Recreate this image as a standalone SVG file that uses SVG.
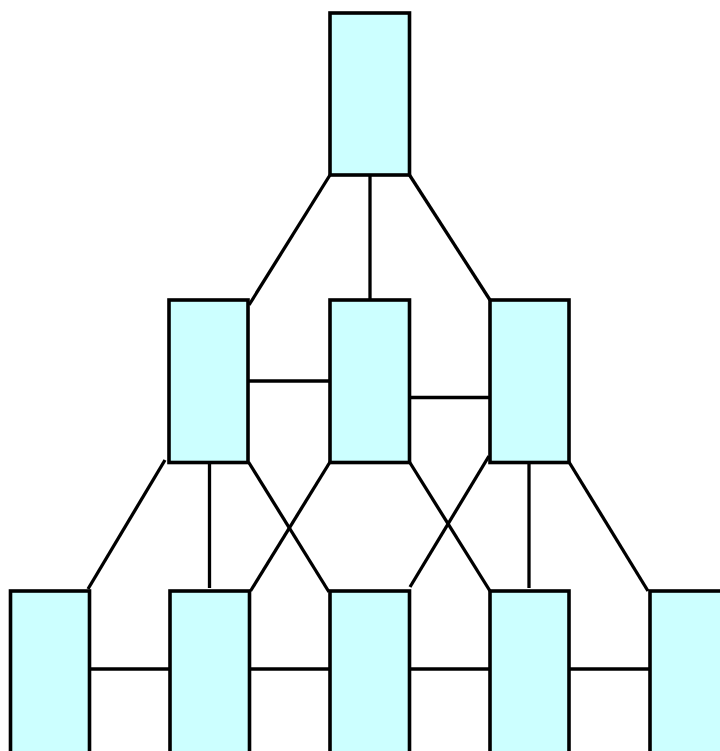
<svg xmlns="http://www.w3.org/2000/svg" width="720" height="751" viewBox="0 0 720 751">
<style>
.n{fill:#CCFFFF;stroke:#000;stroke-width:3.6}
.c{stroke:#000;stroke-width:3.3;fill:none}
</style>
<rect width="720" height="751" fill="#fff"/>
<g id="connectors" class="c">
<line x1="330" y1="175" x2="249" y2="305"/>
<line x1="370" y1="175" x2="370" y2="300"/>
<line x1="409.5" y1="175" x2="490" y2="300"/>
<line x1="248" y1="381" x2="330" y2="381"/>
<line x1="409.5" y1="397.5" x2="490" y2="397.5"/>
<line x1="165" y1="460" x2="88" y2="589"/>
<line x1="209.5" y1="462" x2="209.5" y2="588"/>
<line x1="248.5" y1="462" x2="329" y2="592"/>
<line x1="330" y1="462" x2="250.5" y2="591"/>
<line x1="409.5" y1="462" x2="490" y2="591"/>
<line x1="489" y1="456" x2="410" y2="587"/>
<line x1="529" y1="462" x2="529" y2="588"/>
<line x1="569" y1="462" x2="648" y2="591"/>
<line x1="89.5" y1="669" x2="170" y2="669"/>
<line x1="249.5" y1="669" x2="330" y2="669"/>
<line x1="409.5" y1="669" x2="490" y2="669"/>
<line x1="569" y1="669" x2="650" y2="669"/>
</g>
<g id="n0"><rect class="n" x="330" y="13" width="79.5" height="162"/></g>
<g id="n1"><rect class="n" x="169" y="300" width="79" height="162.5"/></g>
<g id="n2"><rect class="n" x="330" y="300" width="79.5" height="162.5"/></g>
<g id="n3"><rect class="n" x="490" y="300" width="79" height="162.5"/></g>
<g id="n4"><rect class="n" x="10.5" y="591" width="79" height="180"/></g>
<g id="n5"><rect class="n" x="170" y="591" width="79.5" height="180"/></g>
<g id="n6"><rect class="n" x="330" y="591" width="79.5" height="180"/></g>
<g id="n7"><rect class="n" x="490" y="591" width="79" height="180"/></g>
<g id="n8"><rect class="n" x="650" y="591" width="79" height="180"/></g>
</svg>
